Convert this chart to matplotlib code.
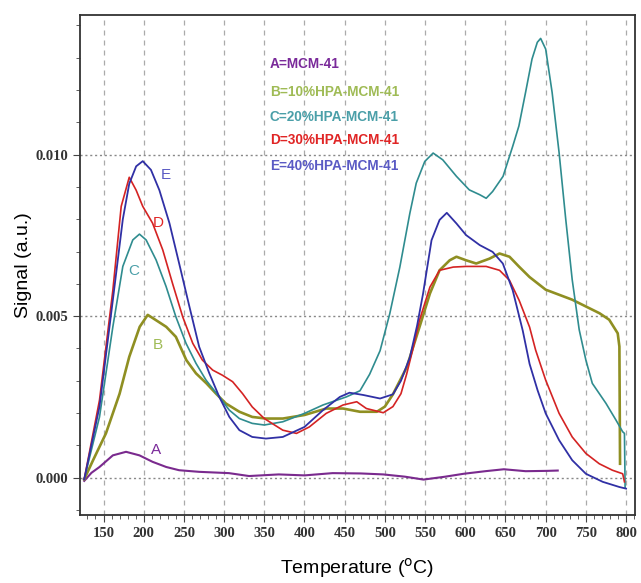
#TPD signal curves for MCM-41 and HPA-MCM-41 samples
import matplotlib.pyplot as plt
from matplotlib.ticker import MultipleLocator

#curve A: MCM-41
temp_a = [126, 135, 145, 161.6, 178, 194.7, 211, 228, 244, 269, 306, 331, 368, 400, 435, 470, 498, 525, 548, 575, 598, 625, 648, 675, 702, 715]
sig_a = [-0.0001, 0.00015, 0.00033, 0.00069, 0.0008, 0.00069, 0.00049, 0.00033, 0.00023, 0.00018, 0.00014, 0.00005, 0.0001, 0.00007, 0.00014, 0.00013, 0.0001, 0.00003, -0.00006, 0.00003, 0.00012, 0.0002, 0.00026, 0.0002, 0.00021, 0.00022]

#curve B: 10%HPA-MCM-41
temp_b = [126, 137, 153, 170, 182, 195, 205, 215, 228, 240, 253, 265, 278, 290, 302, 319, 335, 352, 373, 400, 427, 448, 469, 490, 500, 510, 527, 543, 556, 568, 580.6, 589, 601, 613.6, 630, 642.6, 655, 667, 680, 700, 717, 733, 750, 767, 779, 789.6, 791.7, 792.5]
sig_b = [-0.00005, 0.00054, 0.00137, 0.0026, 0.00374, 0.00467, 0.00504, 0.00488, 0.00467, 0.00436, 0.00364, 0.00323, 0.00292, 0.0026, 0.0023, 0.00204, 0.00188, 0.00183, 0.00183, 0.00194, 0.00214, 0.00214, 0.00204, 0.00204, 0.0022, 0.00258, 0.00341, 0.00466, 0.0057, 0.00642, 0.00673, 0.00684, 0.00673, 0.00663, 0.00678, 0.00694, 0.00684, 0.00653, 0.00621, 0.00582, 0.00566, 0.00551, 0.0053, 0.00509, 0.00489, 0.00447, 0.00406, 0.00043]

#curve C: 20%HPA-MCM-41
temp_c = [126, 145, 161.6, 174, 186.4, 194.7, 203, 215.4, 227.8, 240, 252.6, 265, 277.5, 294, 306.5, 319, 335, 350, 373, 400, 423, 452, 469, 481, 494, 506, 518.6, 531, 539, 549.6, 560, 572, 589, 605, 618, 626, 634, 647, 659, 666.7, 675, 683, 689.6, 693.75, 700, 708, 716.7, 725, 733, 741.7, 750, 758, 775, 787.5, 795.8, 798, 798.8]
sig_c = [-0.00005, 0.00188, 0.00467, 0.00654, 0.00736, 0.00754, 0.00736, 0.00674, 0.00592, 0.00498, 0.00416, 0.00354, 0.00302, 0.0025, 0.00209, 0.00183, 0.00168, 0.00163, 0.00173, 0.00199, 0.00225, 0.0025, 0.00269, 0.0032, 0.00393, 0.00507, 0.00652, 0.00818, 0.00912, 0.00979, 0.01005, 0.00984, 0.00933, 0.00891, 0.00876, 0.00865, 0.00886, 0.00933, 0.01026, 0.01089, 0.01193, 0.01296, 0.01348, 0.0136, 0.01327, 0.01193, 0.01006, 0.00799, 0.00613, 0.00458, 0.00364, 0.00292, 0.0023, 0.00178, 0.00142, 0.00137, -0.0003]

#curve D: 30%HPA-MCM-41
temp_d = [126, 145, 161.6, 172, 182, 190.6, 198.8, 211, 223.7, 236, 248.5, 261, 273, 285.8, 298, 310.6, 323, 335, 350, 373, 390, 406, 427, 448, 465, 477, 498, 510, 520, 527, 535, 543, 556, 568, 585, 601, 626, 642.6, 655, 667, 680, 687.5, 700, 716.7, 733, 750, 766.7, 783, 795.8, 798]
sig_d = [-0.00005, 0.0024, 0.0058, 0.0084, 0.0093, 0.0089, 0.0084, 0.00788, 0.00705, 0.006, 0.00498, 0.00416, 0.00364, 0.00333, 0.00317, 0.00297, 0.0026, 0.00219, 0.00183, 0.00147, 0.00137, 0.00157, 0.00199, 0.00225, 0.00235, 0.00214, 0.00201, 0.0022, 0.0026, 0.0032, 0.004, 0.00487, 0.0059, 0.00642, 0.00652, 0.00654, 0.00654, 0.00642, 0.00611, 0.00549, 0.00466, 0.00395, 0.00302, 0.00199, 0.00126, 0.00075, 0.00043, 0.00023, 0.00012, -0.00013]

#curve E: 40%HPA-MCM-41
temp_e = [126, 145, 161.6, 174, 182, 190.6, 198.8, 209, 219.5, 232, 244, 256.8, 269, 281.6, 294, 306.5, 319, 335, 352, 373, 400, 423, 444, 456, 473, 494, 510, 520, 531, 540, 547.5, 558, 568, 577, 589, 601, 618, 634, 646.7, 659, 671.5, 680, 690, 700, 716.7, 733, 750, 771, 791.7, 800]
sig_e = [-0.00005, 0.0022, 0.0055, 0.008, 0.0091, 0.00964, 0.0098, 0.00953, 0.0089, 0.00788, 0.00664, 0.0053, 0.00405, 0.00323, 0.0025, 0.00188, 0.00147, 0.00126, 0.00121, 0.00126, 0.00157, 0.00209, 0.0025, 0.00263, 0.00256, 0.00245, 0.00258, 0.0030, 0.00372, 0.0047, 0.0057, 0.00735, 0.00798, 0.0082, 0.00787, 0.00751, 0.0072, 0.00699, 0.00663, 0.0058, 0.00455, 0.00352, 0.0027, 0.00199, 0.00116, 0.00054, 0.00012, -0.00013, -0.00029, -0.00034]

curve_colors = ['#7a2a8e', '#8f8f22', '#2f8c8f', '#d42323', '#3030a5']
curve_widths = [1.5, 1.9, 1.2, 1.2, 1.3]
text_colors = ['#7a2a9a', '#9fbb55', '#4a9fa8', '#e02525', '#5a5ac4']
legend_lines = ['A=MCM-41', 'B=10%HPA-MCM-41', 'C=20%HPA-MCM-41', 'D=30%HPA-MCM-41', 'E=40%HPA-MCM-41']
curve_letters = ['A', 'B', 'C', 'D', 'E']
#letter label positions (temperature, signal)
letter_pos = [(215.4, 0.00085), (218, 0.0041), (187.7, 0.0064), (218.7, 0.00788), (227, 0.00938)]
legend_sig = [0.0128, 0.01195, 0.01118, 0.01046, 0.00964]

fig = plt.figure(figsize=(6.41, 5.83), dpi=100)
ax = fig.add_axes([0.1245, 0.117, 0.866, 0.857])

all_t = [temp_a, temp_b, temp_c, temp_d, temp_e]
all_s = [sig_a, sig_b, sig_c, sig_d, sig_e]
for t, s, c, w in zip(all_t, all_s, curve_colors, curve_widths):
    ax.plot(t, s, color=c, lw=w)

narrow = ['Liberation Sans Narrow', 'Liberation Sans', 'DejaVu Sans']
for (x, y), letter, c in zip(letter_pos, curve_letters, text_colors):
    ax.text(x, y, letter, color=c, fontsize=11, family=narrow, ha='center', va='center')
for y, txt, c in zip(legend_sig, legend_lines, text_colors):
    ax.text(357, y, txt, color=c, fontsize=9.8, family=narrow, fontweight='bold', ha='left', va='center')

ax.set_xlim(120.5, 811)
ax.set_ylim(-0.00115, 0.01432)
ax.xaxis.set_major_locator(MultipleLocator(50))
ax.xaxis.set_minor_locator(MultipleLocator(10))
ax.yaxis.set_major_locator(MultipleLocator(0.005))
ax.yaxis.set_minor_locator(MultipleLocator(0.001))
ax.set_xticks(range(150, 801, 50))
ax.xaxis.grid(True, which='major', linestyle=(0, (4, 4)), color='#aaaaaa', lw=0.9)
ax.yaxis.grid(True, which='major', linestyle=(0, (1.5, 2)), color='#888888', lw=1.0)
ax.yaxis.set_major_formatter(plt.FuncFormatter(lambda v, p: f"{v:.3f}"))

ax.tick_params(which='both', direction='out', color='#444444')
ax.tick_params(which='major', length=5)
ax.tick_params(which='minor', length=3)
for lab in ax.get_xticklabels() + ax.get_yticklabels():
    lab.set_family('Liberation Serif')
    lab.set_fontsize(10.5)
    lab.set_fontweight('bold')
    lab.set_color('#333333')
for sp in ax.spines.values():
    sp.set_color('#333333')
    sp.set_linewidth(1.3)

ax.set_xlabel('Temperature ($^{\\mathrm{o}}$C)', family='Liberation Sans', fontsize=14, labelpad=12)
ax.set_ylabel('Signal (a.u.)', family='Liberation Sans', fontsize=14, labelpad=2)

fig.savefig('out.png', dpi=100)
